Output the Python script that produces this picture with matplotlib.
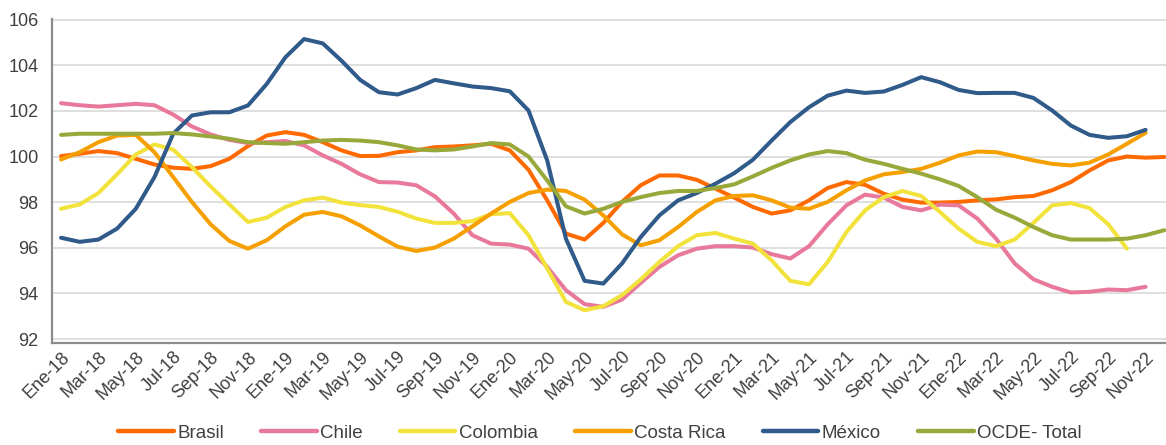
import matplotlib
matplotlib.use("Agg")
import matplotlib.pyplot as plt
from matplotlib.transforms import ScaledTranslation

plt.rcParams['font.family'] = ['Liberation Sans', 'DejaVu Sans']

meses = ["Ene", "Feb", "Mar", "Abr", "May", "Jun", "Jul", "Ago", "Sep", "Oct", "Nov", "Dic"]
categorias = [f"{m}-{a}" for a in range(18, 23) for m in meses]  # Ene-18 .. Dic-22

brasil = [100.02, 100.12, 100.24, 100.15, 99.90, 99.65, 99.51, 99.46, 99.58, 99.90,
          100.46, 100.92, 101.07, 100.95, 100.63, 100.27, 100.02, 100.03, 100.19, 100.27,
          100.41, 100.44, 100.49, 100.56, 100.27, 99.42, 98.08, 96.62, 96.36, 97.09,
          98.01, 98.74, 99.17, 99.17, 98.98, 98.59, 98.20, 97.79, 97.50, 97.64,
          98.08, 98.62, 98.88, 98.76, 98.37, 98.11, 97.98, 97.98, 98.01, 98.08,
          98.12, 98.22, 98.27, 98.52, 98.88, 99.39, 99.83, 100.00, 99.95, 99.98]

chile = [102.34, 102.25, 102.19, 102.25, 102.31, 102.25, 101.84, 101.32, 100.97, 100.73,
         100.59, 100.63, 100.68, 100.49, 100.05, 99.68, 99.22, 98.88, 98.86, 98.74,
         98.25, 97.50, 96.55, 96.18, 96.14, 95.96, 95.16, 94.14, 93.53, 93.41,
         93.73, 94.46, 95.16, 95.67, 95.96, 96.07, 96.07, 96.01, 95.72, 95.53,
         96.07, 97.03, 97.86, 98.33, 98.20, 97.79, 97.64, 97.89, 97.86, 97.28,
         96.40, 95.31, 94.62, 94.29, 94.04, 94.07, 94.17, 94.14, 94.29]

colombia = [97.71, 97.90, 98.40, 99.22, 100.09, 100.53, 100.30, 99.54, 98.69, 97.90,
            97.13, 97.32, 97.79, 98.08, 98.20, 97.98, 97.87, 97.79, 97.58, 97.28,
            97.09, 97.09, 97.17, 97.47, 97.52, 96.55, 95.09, 93.63, 93.26, 93.44,
            93.92, 94.61, 95.38, 96.07, 96.55, 96.65, 96.40, 96.18, 95.45, 94.55,
            94.40, 95.38, 96.69, 97.64, 98.22, 98.49, 98.27, 97.57, 96.84, 96.26,
            96.07, 96.36, 97.09, 97.86, 97.96, 97.74, 97.03, 95.96]

costa_rica = [99.87, 100.19, 100.63, 100.92, 100.95, 100.19, 99.10, 98.01, 97.03, 96.30,
              95.96, 96.33, 96.94, 97.45, 97.57, 97.38, 96.98, 96.50, 96.05, 95.86,
              96.01, 96.40, 96.94, 97.50, 98.01, 98.40, 98.55, 98.49, 98.11, 97.42,
              96.59, 96.11, 96.33, 96.91, 97.57, 98.08, 98.27, 98.30, 98.08, 97.76,
              97.71, 98.01, 98.52, 98.95, 99.22, 99.32, 99.46, 99.73, 100.05, 100.22,
              100.19, 100.02, 99.83, 99.68, 99.61, 99.73, 100.09, 100.56, 101.04]

mexico = [96.44, 96.26, 96.36, 96.84, 97.71, 99.10, 101.00, 101.80, 101.94, 101.94,
          102.24, 103.18, 104.35, 105.15, 104.96, 104.20, 103.36, 102.82, 102.72, 103.00,
          103.36, 103.21, 103.07, 103.00, 102.86, 102.02, 99.83, 96.40, 94.55, 94.43,
          95.31, 96.47, 97.42, 98.08, 98.40, 98.81, 99.27, 99.86, 100.70, 101.51,
          102.16, 102.67, 102.89, 102.79, 102.85, 103.14, 103.48, 103.26, 102.92, 102.78,
          102.79, 102.79, 102.57, 102.02, 101.36, 100.95, 100.82, 100.89, 101.17]

ocde = [100.95, 101.00, 101.00, 101.00, 101.00, 101.00, 101.03, 100.97, 100.88, 100.78,
        100.63, 100.59, 100.56, 100.63, 100.70, 100.73, 100.70, 100.63, 100.49, 100.31,
        100.27, 100.31, 100.44, 100.59, 100.53, 100.00, 98.95, 97.82, 97.50, 97.71,
        98.01, 98.22, 98.40, 98.49, 98.49, 98.62, 98.78, 99.13, 99.50, 99.83,
        100.09, 100.24, 100.15, 99.86, 99.68, 99.46, 99.25, 99.00, 98.71, 98.22,
        97.67, 97.32, 96.91, 96.55, 96.36, 96.36, 96.36, 96.40, 96.55, 96.77]

series = [
    ("Brasil", brasil, "#FF6A00"),
    ("Chile", chile, "#E8799B"),
    ("Colombia", colombia, "#F2E23C"),
    ("Costa Rica", costa_rica, "#F5A000"),
    ("México", mexico, "#305A8A"),
    ("OCDE- Total", ocde, "#98A83A"),
]

y_ticks = [92, 94, 96, 98, 100, 102, 104, 106]

W, H = 1166, 445
fig = plt.figure(figsize=(W / 100, H / 100), dpi=100)
ax = fig.add_axes([52.3 / W, 1 - 343 / H, (W - 52.3) / W, 324 / H])

for name, vals, col in series:
    ax.plot(range(len(vals)), vals, color=col, lw=2.9, label=name,
            solid_joinstyle='round', solid_capstyle='round')

ax.set_xlim(-0.465, 59.09)
ax.set_ylim(91.825, 106.03)
ax.set_yticks(y_ticks)
ax.set_yticklabels([str(t) for t in y_ticks])
ax.set_xticks(range(0, len(categorias), 2))
ax.set_xticklabels(categorias[::2], rotation=45, ha='right', va='top',
                   rotation_mode='anchor')
shift = ScaledTranslation(0.05, -0.035, fig.dpi_scale_trans)
for lab in ax.get_xticklabels():
    lab.set_transform(lab.get_transform() + shift)

ax.yaxis.grid(True, color='#D9D9D9', lw=1.2)
ax.set_axisbelow(True)
for s in ['top', 'right']:
    ax.spines[s].set_visible(False)
for s in ['left', 'bottom']:
    ax.spines[s].set_color('#8C8C8C')
    ax.spines[s].set_linewidth(1.6)
ax.tick_params(axis='both', length=0, colors='#404040', labelsize=13)
ax.tick_params(axis='y', pad=10)
ax.tick_params(axis='x', pad=4)

leg = fig.legend(loc='center', bbox_to_anchor=(600 / W, 1 - 433 / H), ncol=6,
                 frameon=False, fontsize=13.5, handlelength=2.95,
                 handletextpad=0.18, columnspacing=2.0, labelcolor='#404040')
for line in leg.get_lines():
    line.set_linewidth(3.2)

fig.savefig('out.png', dpi=100)
